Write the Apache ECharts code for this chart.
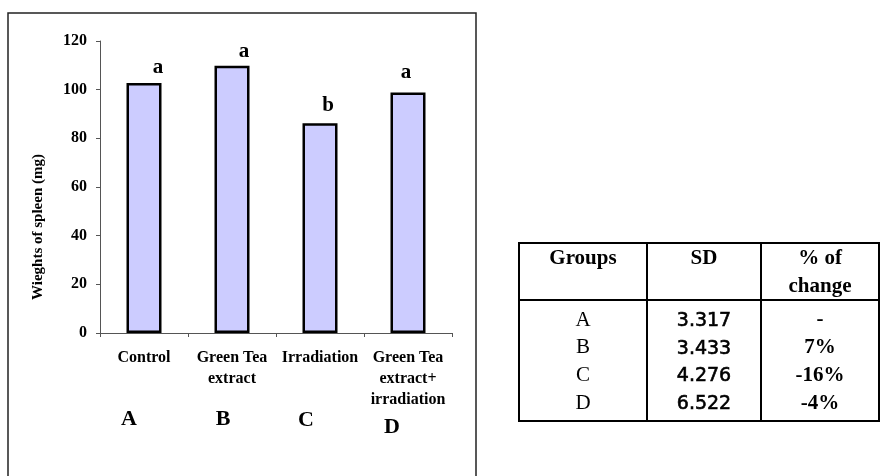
<!DOCTYPE html>
<html>
<head>
<meta charset="utf-8">
<script src="https://cdn.jsdelivr.net/npm/echarts@6/dist/echarts.min.js"></script>
<style>
html, body { margin: 0; padding: 0; background: #fff; }
#main { width: 880px; height: 476px; }
</style>
</head>
<body>
<div id="main"></div>
<script>
var categories = ['Control', 'Green Tea\nextract', 'Irradiation', 'Green Tea\nextract+\nirradiation'];
var weights = [102.7, 109.8, 86.2, 98.8];
var sigLetters = ['a', 'a', 'b', 'a'];
var groupLetters = ['A', 'B', 'C', 'D'];
var yTicks = [0, 20, 40, 60, 80, 100, 120];
var tableHead = ['Groups', 'SD', '% of\nchange'];
var sdValues = ['3.317', '3.433', '4.276', '6.522'];
var pctChange = ['-', '7%', '-16%', '-4%'];

var serif = '"Liberation Serif", "Times New Roman", serif';
var chart = echarts.init(document.getElementById('main'));

// where the little letters sit relative to each bar (as in the original)
var letterOffsets = [[14, 0], [12, 1], [8, -2], [-2, -5]];

var barData = weights.map(function (v, i) {
    return {
        value: v,
        label: { formatter: sigLetters[i], offset: letterOffsets[i] }
    };
});

// table drawn with graphic elements
var tbl = { left: 519, right: 879, top: 243, sep: 300, bottom: 421, cols: [519, 647, 761, 879] };
var tableEls = [];
tableEls.push({
    type: 'rect',
    shape: { x: tbl.left, y: tbl.top, width: tbl.right - tbl.left, height: tbl.bottom - tbl.top },
    style: { fill: '#fff', stroke: '#000', lineWidth: 2 }
});
tableEls.push({ type: 'line', shape: { x1: tbl.left, y1: tbl.sep, x2: tbl.right, y2: tbl.sep }, style: { stroke: '#000', lineWidth: 2 } });
[1, 2].forEach(function (c) {
    tableEls.push({ type: 'line', shape: { x1: tbl.cols[c], y1: tbl.top, x2: tbl.cols[c], y2: tbl.bottom }, style: { stroke: '#000', lineWidth: 2 } });
});
tableHead.forEach(function (h, c) {
    tableEls.push({
        type: 'text',
        x: (tbl.cols[c] + tbl.cols[c + 1]) / 2,
        y: 245,
        style: { text: h, font: 'bold 21px ' + serif, fill: '#000', align: 'center', verticalAlign: 'top', lineHeight: 28 }
    });
});
for (var i = 0; i < groupLetters.length; i++) {
    var ry = 320 + i * 27.7;
    tableEls.push({
        type: 'text', x: (tbl.cols[0] + tbl.cols[1]) / 2, y: ry,
        style: { text: groupLetters[i], font: '21px ' + serif, fill: '#000', align: 'center', verticalAlign: 'middle' }
    });
    tableEls.push({
        type: 'text', x: (tbl.cols[1] + tbl.cols[2]) / 2, y: ry + 1,
        style: { text: sdValues[i], font: '19px "DejaVu Sans", sans-serif', fill: '#000', stroke: '#000', lineWidth: 0.6, align: 'center', verticalAlign: 'middle' }
    });
    tableEls.push({
        type: 'text', x: (tbl.cols[2] + tbl.cols[3]) / 2, y: ry,
        style: { text: pctChange[i], font: 'bold 21px ' + serif, fill: '#000', align: 'center', verticalAlign: 'middle' }
    });
}

var letterPos = [[129, 419], [223, 419], [306, 420], [392, 427]];
var chartEls = [
    {
        type: 'rect',
        shape: { x: 8, y: 13, width: 468, height: 500 },
        style: { fill: null, stroke: '#222', lineWidth: 1.5 },
        z: -1
    },
    {
        type: 'text',
        x: 38, y: 227, rotation: Math.PI / 2,
        style: { text: 'Wieghts of spleen (mg)', font: 'bold 15px ' + serif, fill: '#000', align: 'center', verticalAlign: 'middle' }
    }
];
groupLetters.forEach(function (g, i) {
    chartEls.push({
        type: 'text', x: letterPos[i][0], y: letterPos[i][1],
        style: { text: g, font: 'bold 22px ' + serif, fill: '#000', align: 'center', verticalAlign: 'middle' }
    });
});

var option = {
    animation: false,
    backgroundColor: '#fff',
    grid: { left: 100, right: 428, top: 41, bottom: 143, containLabel: false },
    xAxis: {
        type: 'category',
        data: categories,
        axisLine: { lineStyle: { color: '#555', width: 1 } },
        axisTick: { show: true, length: 4, lineStyle: { color: '#555' } },
        axisLabel: {
            interval: 0,
            margin: 14,
            color: '#000',
            fontFamily: serif,
            fontWeight: 'bold',
            fontSize: 16,
            lineHeight: 21
        }
    },
    yAxis: {
        type: 'value',
        min: yTicks[0],
        max: yTicks[yTicks.length - 1],
        interval: yTicks[1] - yTicks[0],
        splitLine: { show: false },
        axisLine: { show: true, lineStyle: { color: '#555', width: 1 } },
        axisTick: { show: true, length: 4, lineStyle: { color: '#555' } },
        axisLabel: {
            margin: 13,
            color: '#000',
            fontFamily: serif,
            fontWeight: 'bold',
            fontSize: 16
        }
    },
    series: [{
        type: 'bar',
        data: barData,
        barWidth: 35,
        itemStyle: { color: '#ccccff', borderColor: '#000', borderWidth: 2.5 },
        label: {
            show: true,
            position: 'top',
            distance: 5,
            color: '#000',
            fontFamily: serif,
            fontWeight: 'bold',
            fontSize: 21
        }
    }],
    graphic: chartEls.concat(tableEls)
};

chart.setOption(option);
</script>
</body>
</html>
